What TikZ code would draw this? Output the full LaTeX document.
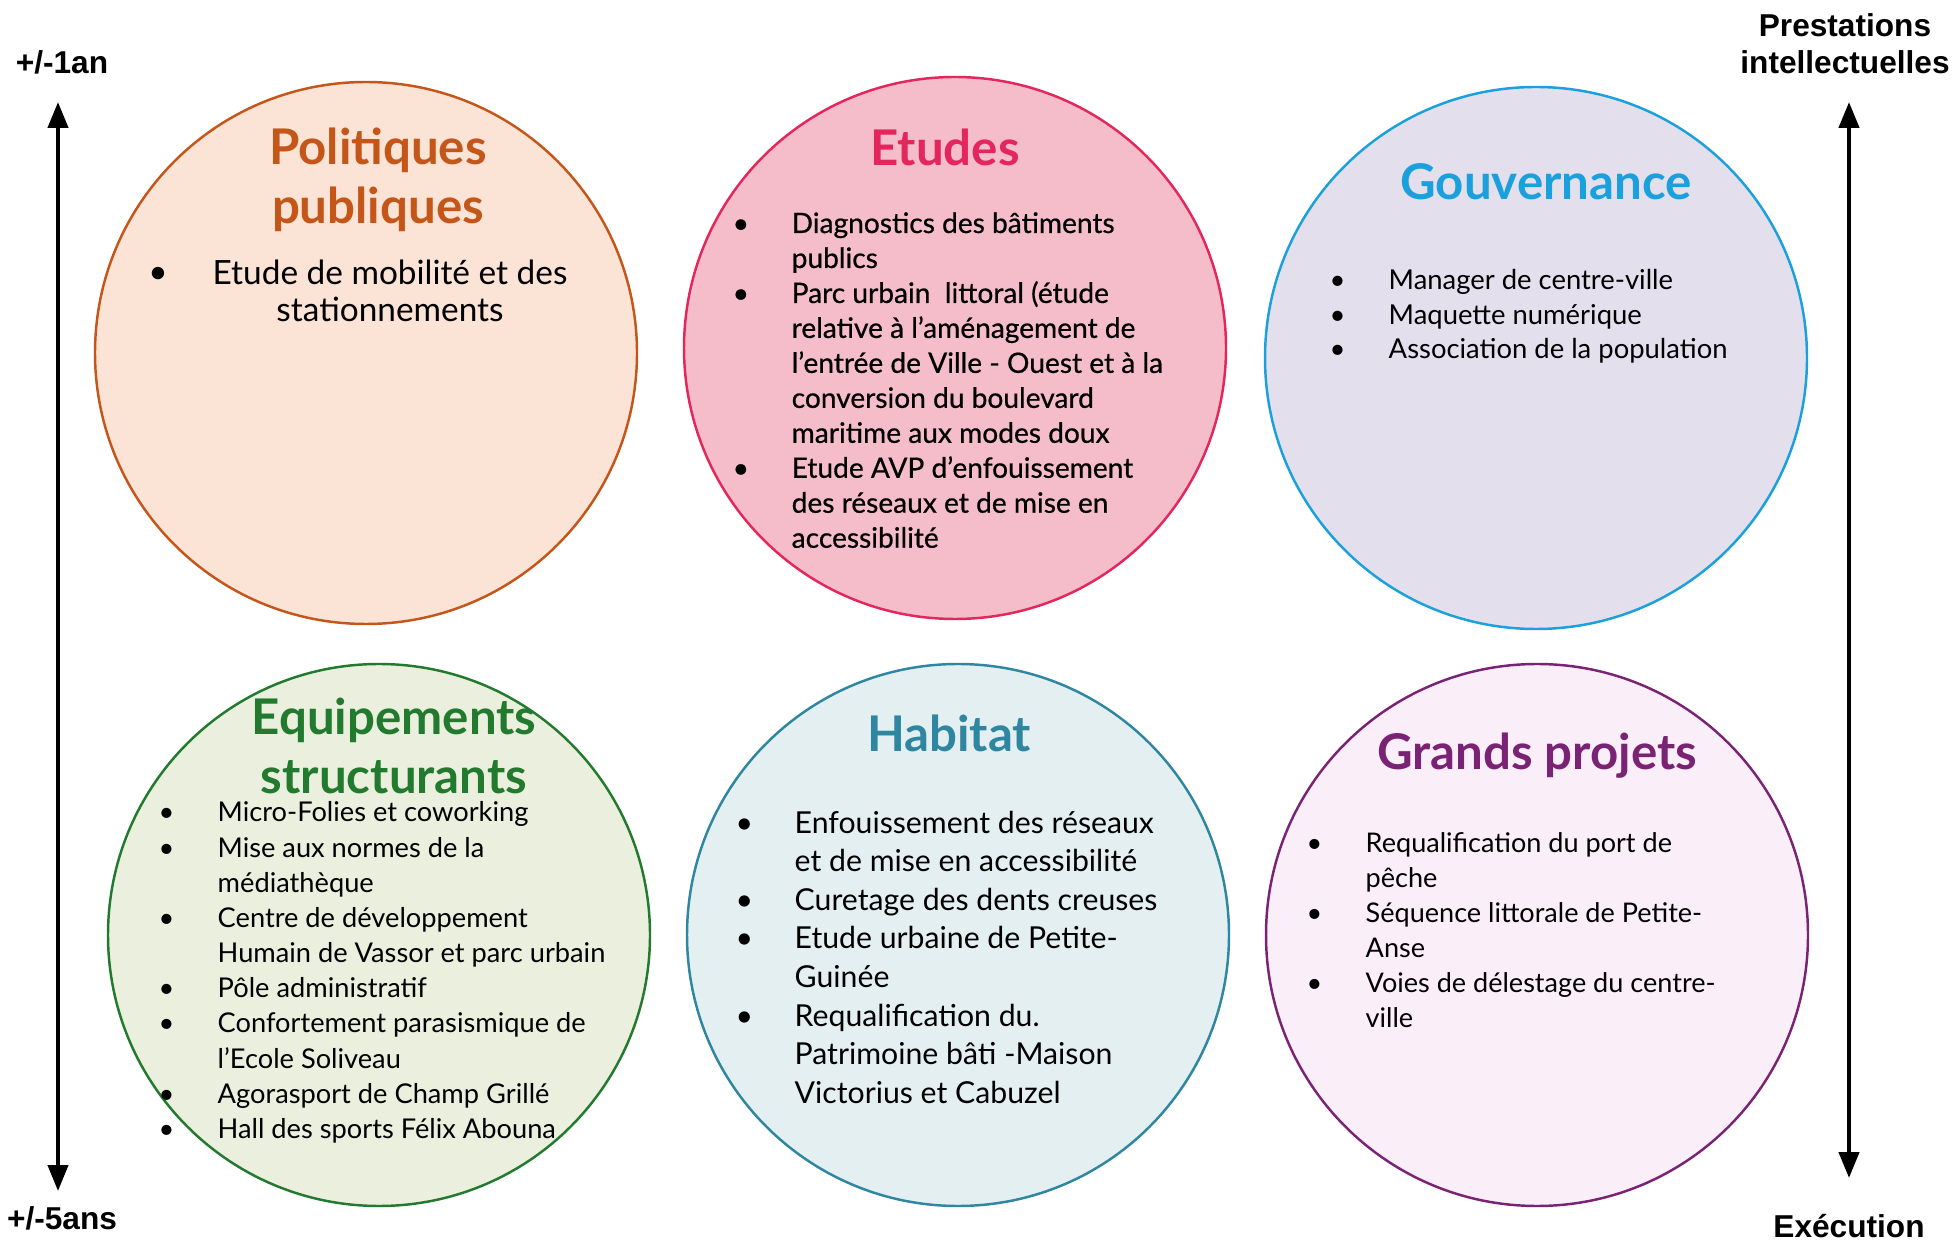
\documentclass[tikz,border=0pt]{standalone}
\usepackage{fontspec}
\setmainfont{Lato}
\newfontfamily\axisfont{Liberation Sans}
\newfontfamily\medfont[FakeBold=0.6]{Lato}
\usetikzlibrary{positioning,arrows.meta}

\definecolor{polLine}{HTML}{C4561A}
\definecolor{polFill}{HTML}{FBE3D6}
\definecolor{etuLine}{HTML}{E3265C}
\definecolor{etuFill}{HTML}{F5BDCA}
\definecolor{gouLine}{HTML}{1AA0DC}
\definecolor{gouFill}{HTML}{E4DFEC}
\definecolor{equLine}{HTML}{217A2E}
\definecolor{equFill}{HTML}{EBEFDD}
\definecolor{habLine}{HTML}{2E86A0}
\definecolor{habFill}{HTML}{E3EFF1}
\definecolor{graLine}{HTML}{7A2274}
\definecolor{graFill}{HTML}{FAEFF8}

% liste a puces : une colonne pour la puce, une pour le texte
\newcommand{\puces}[1]{\begin{tabular}[t]{@{}p{5.9mm}@{}l@{}}#1\end{tabular}}

\begin{document}
\begin{tikzpicture}[x=0.1mm, y=-0.1mm,
    bulle/.style={circle, line width=0.7pt, minimum size=54.2mm, inner sep=0pt},
    titre/.style={font=\bfseries\fontsize{14}{16.8}\selectfont, align=center},
    liste/.style={anchor=base west, inner sep=0pt},
    axe/.style={font=\axisfont\bfseries\fontsize{9}{10.6}\selectfont, align=center},
    fleche/.style={line width=1.2pt, {Triangle[length=2.6mm,width=2mm]}-{Triangle[length=2.6mm,width=2mm]}}]
  \useasboundingbox (0,0) rectangle (1955,1241);

  % les six bulles
  \node[bulle, draw=polLine, fill=polFill] (pol) at (366,353) {};
  \node[bulle, draw=etuLine, fill=etuFill] (etu) at (955,348) {};
  \node[bulle, draw=gouLine, fill=gouFill] (gou) at (1536,358) {};
  \node[bulle, draw=equLine, fill=equFill] (equ) at (379,935) {};
  \node[bulle, draw=habLine, fill=habFill] (hab) at (958,935) {};
  \node[bulle, draw=graLine, fill=graFill] (gra) at (1537,935) {};

  % titres
  \node[titre, text=polLine] (polT) at (378,180) {Politiques\\publiques};
  \node[titre, text=etuLine] (etuT) at (945,147) {Etudes};
  \node[titre, text=gouLine] (gouT) at (1546,182) {Gouvernance};
  \node[titre, text=equLine] (equT) at (394,746) {Equipements\\structurants};
  \node[titre, text=habLine] (habT) at (949,733) {Habitat};
  \node[titre, text=graLine] (graT) at (1537,756) {Grands projets};

  % contenus
  \node[inner sep=0pt, font=\fontsize{9.5}{10.8}\selectfont] (polB) at (158,275) {\textbullet};
  \node[inner sep=0pt, align=center, anchor=base, font=\fontsize{9.5}{10.8}\selectfont] (polL) at (390,322)
    {Etude de mobilité et des\\stationnements};

  \node[liste, font=\medfont\fontsize{8}{9.95}\selectfont] (etuL) at (732,233) {\puces{
    \textbullet & Diagnostics des bâtiments\\
    & publics\\
    \textbullet & Parc urbain\ \ littoral (étude\\
    & relative à l’aménagement de\\
    & l’entrée de Ville - Ouest et à la\\
    & conversion du boulevard\\
    & maritime aux modes doux\\
    \textbullet & Etude AVP d’enfouissement\\
    & des réseaux et de mise en\\
    & accessibilité}};

  \node[liste, font=\fontsize{7.8}{9.8}\selectfont] (gouL) at (1329,290) {\puces{
    \textbullet & Manager de centre-ville\\
    \textbullet & Maquette numérique\\
    \textbullet & Association de la population}};

  \node[liste, font=\fontsize{7.75}{10}\selectfont] (equL) at (158,822) {\puces{
    \textbullet & Micro-Folies et coworking\\
    \textbullet & Mise aux normes de la\\
    & médiathèque\\
    \textbullet & Centre de développement\\
    & Humain de Vassor et parc urbain\\
    \textbullet & Pôle administratif\\
    \textbullet & Confortement parasismique de\\
    & l’Ecole Soliveau\\
    \textbullet & Agorasport de Champ Grillé\\
    \textbullet & Hall des sports Félix Abouna}};

  \node[liste, font=\fontsize{8.6}{11}\selectfont] (habL) at (735,833) {\puces{
    \textbullet & Enfouissement des réseaux\\
    & et de mise en accessibilité\\
    \textbullet & Curetage des dents creuses\\
    \textbullet & Etude urbaine de Petite-\\
    & Guinée\\
    \textbullet & Requalification du.\\
    & Patrimoine bâti -Maison\\
    & Victorius et Cabuzel}};

  \node[liste, font=\fontsize{7.7}{10}\selectfont] (graL) at (1306,852) {\puces{
    \textbullet & Requalification du port de\\
    & pêche\\
    \textbullet & Séquence littorale de Petite-\\
    & Anse\\
    \textbullet & Voies de délestage du centre-\\
    & ville}};

  % axes
  \node[axe] (court) at (62,62) {+/-1an};
  \node[axe] (long) at (62,1218) {+/-5ans};
  \node[axe] (prest) at (1845,44) {Prestations\\intellectuelles};
  \node[axe] (exec) at (1849,1226) {Exécution};
  \coordinate (gHaut) at (58,102);
  \coordinate (gBas) at (58,1191);
  \coordinate (dHaut) at (1849,102);
  \coordinate (dBas) at (1849,1178);
  \draw[fleche] (gHaut) -- (gBas);
  \draw[fleche] (dHaut) -- (dBas);
\end{tikzpicture}
\end{document}
